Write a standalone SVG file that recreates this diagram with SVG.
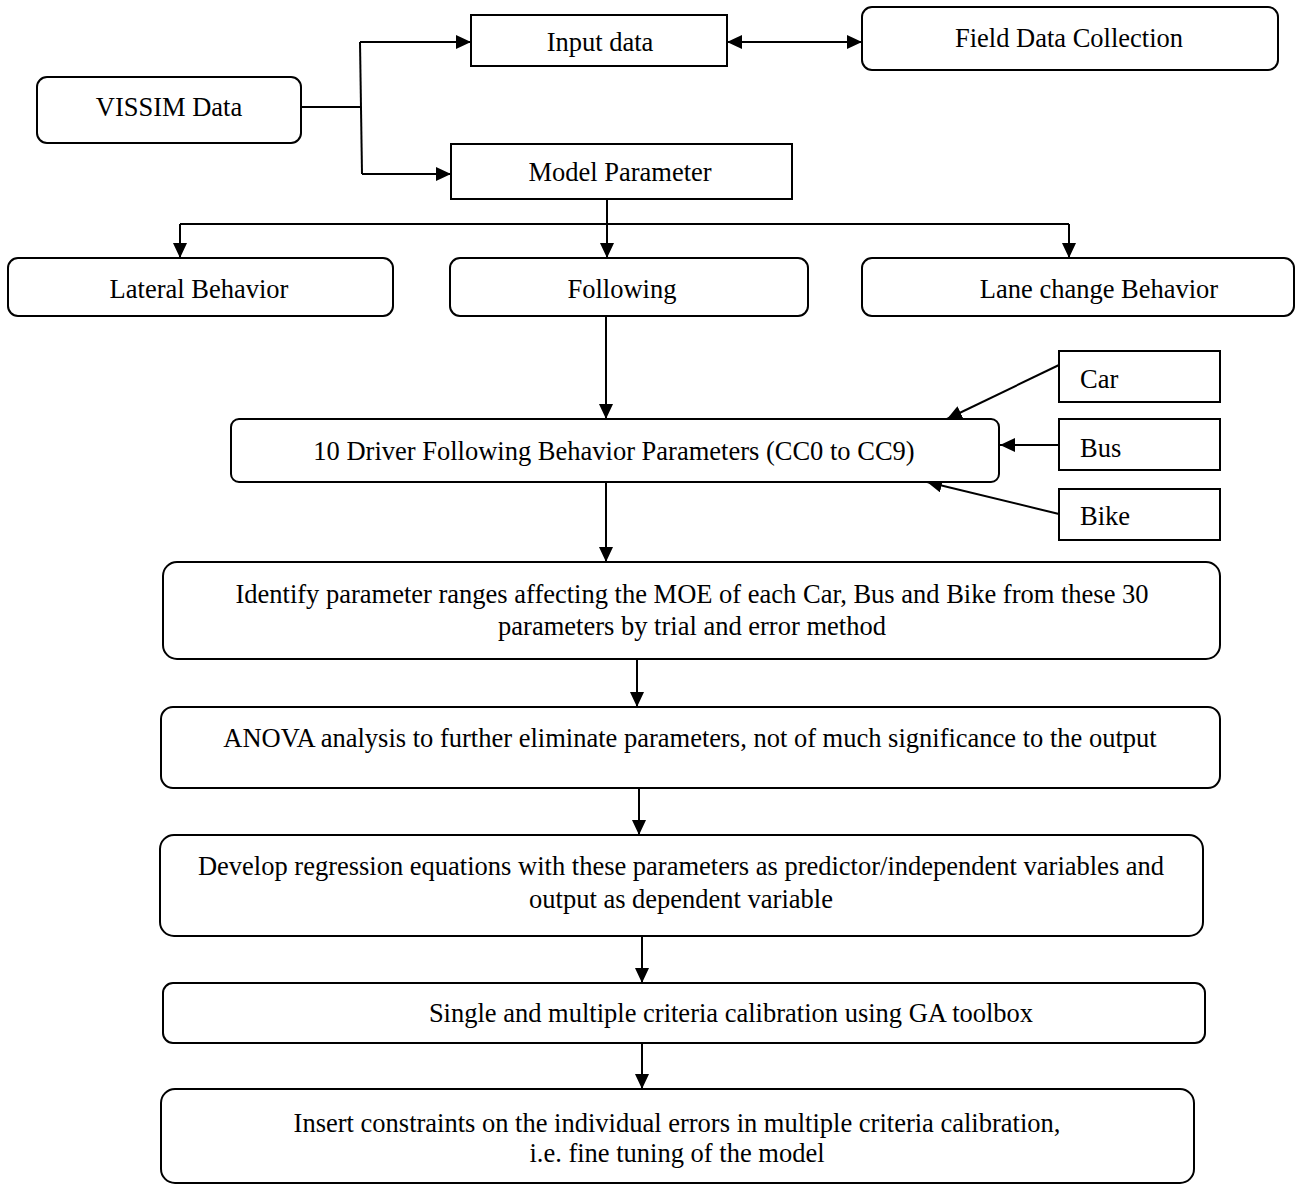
<svg xmlns="http://www.w3.org/2000/svg" width="1298" height="1184" viewBox="0 0 1298 1184">
<style>
.box{fill:#fff;stroke:#000;stroke-width:2}
.t{font-family:"Liberation Serif","Times New Roman",serif;font-size:26.5px;fill:#000}
.m{text-anchor:middle}
.ln{fill:none;stroke:#000;stroke-width:2}
</style>
<defs>
<marker id="ah" markerUnits="userSpaceOnUse" markerWidth="15" markerHeight="14" refX="15" refY="7" orient="auto-start-reverse" viewBox="0 0 15 14">
<path d="M0,0 L15,7 L0,14 z" fill="#000"/>
</marker>
</defs>
<rect width="1298" height="1184" fill="#fff"/>
<g id="connectors">
<polyline class="ln" points="301,107 360,107"/>
<polyline class="ln" points="360,42 362,174"/>
<line class="ln" x1="360" y1="42" x2="471" y2="42" marker-end="url(#ah)"/>
<line class="ln" x1="362" y1="174" x2="451" y2="174" marker-end="url(#ah)"/>
<line class="ln" x1="727" y1="42" x2="862" y2="42" marker-start="url(#ah)" marker-end="url(#ah)"/>
<line class="ln" x1="607" y1="199" x2="607" y2="224"/>
<line class="ln" x1="180" y1="224" x2="1069" y2="224"/>
<line class="ln" x1="180" y1="224" x2="180" y2="258" marker-end="url(#ah)"/>
<line class="ln" x1="607" y1="224" x2="607" y2="258" marker-end="url(#ah)"/>
<line class="ln" x1="1069" y1="224" x2="1069" y2="258" marker-end="url(#ah)"/>
<line class="ln" x1="606" y1="316" x2="606" y2="419" marker-end="url(#ah)"/>
<line class="ln" x1="1059" y1="365" x2="947" y2="419" marker-end="url(#ah)"/>
<line class="ln" x1="1059" y1="445" x2="1000" y2="445" marker-end="url(#ah)"/>
<line class="ln" x1="1059" y1="514" x2="927" y2="482" marker-end="url(#ah)"/>
<line class="ln" x1="606" y1="482" x2="606" y2="562" marker-end="url(#ah)"/>
<line class="ln" x1="637" y1="659" x2="637" y2="707" marker-end="url(#ah)"/>
<line class="ln" x1="639" y1="784" x2="639" y2="835" marker-end="url(#ah)"/>
<line class="ln" x1="642" y1="936" x2="642" y2="983" marker-end="url(#ah)"/>
<line class="ln" x1="642" y1="1043" x2="642" y2="1089" marker-end="url(#ah)"/>
</g>
<g id="vissim"><rect class="box" x="37" y="77" width="264" height="66" rx="10"/><text class="t m" x="169" y="116">VISSIM Data</text></g>
<g id="input"><rect class="box" x="471" y="15" width="256" height="51"/><text class="t m" x="600" y="51">Input data</text></g>
<g id="field"><rect class="box" x="862" y="7" width="416" height="63" rx="10"/><text class="t m" x="1069" y="47">Field Data Collection</text></g>
<g id="model"><rect class="box" x="451" y="144" width="341" height="55"/><text class="t m" x="620" y="181">Model Parameter</text></g>
<g id="lateral"><rect class="box" x="8" y="258" width="385" height="58" rx="10"/><text class="t m" x="199" y="298">Lateral Behavior</text></g>
<g id="following"><rect class="box" x="450" y="258" width="358" height="58" rx="10"/><text class="t m" x="622" y="298">Following</text></g>
<g id="lanechange"><rect class="box" x="862" y="258" width="432" height="58" rx="10"/><text class="t m" x="1099" y="298">Lane change Behavior</text></g>
<g id="driver"><rect class="box" x="231" y="419" width="768" height="63" rx="8"/><text class="t m" x="614" y="460">10 Driver Following Behavior Parameters (CC0 to CC9)</text></g>
<g id="car"><rect class="box" x="1059" y="351" width="161" height="51"/><text class="t" x="1080" y="388">Car</text></g>
<g id="bus"><rect class="box" x="1059" y="419" width="161" height="51"/><text class="t" x="1080" y="457">Bus</text></g>
<g id="bike"><rect class="box" x="1059" y="489" width="161" height="51"/><text class="t" x="1080" y="525">Bike</text></g>
<g id="identify"><rect class="box" x="163" y="562" width="1057" height="97" rx="14"/><text class="t m" x="692" y="603">Identify parameter ranges affecting the MOE of each Car, Bus and Bike from these 30</text><text class="t m" x="692" y="635">parameters by trial and error method</text></g>
<g id="anova"><rect class="box" x="161" y="707" width="1059" height="81" rx="12"/><text class="t m" x="690" y="747">ANOVA analysis to further eliminate parameters, not of much significance to the output</text></g>
<g id="develop"><rect class="box" x="160" y="835" width="1043" height="101" rx="14"/><text class="t m" x="681" y="875">Develop regression equations with these parameters as predictor/independent variables and</text><text class="t m" x="681" y="908">output as dependent variable</text></g>
<g id="single"><rect class="box" x="163" y="983" width="1042" height="60" rx="10"/><text class="t m" x="731" y="1022">Single and multiple criteria calibration using GA toolbox</text></g>
<g id="insert"><rect class="box" x="161" y="1089" width="1033" height="94" rx="14"/><text class="t m" x="677" y="1132">Insert constraints on the individual errors in multiple criteria calibration,</text><text class="t m" x="677" y="1162">i.e. fine tuning of the model</text></g>
</svg>
